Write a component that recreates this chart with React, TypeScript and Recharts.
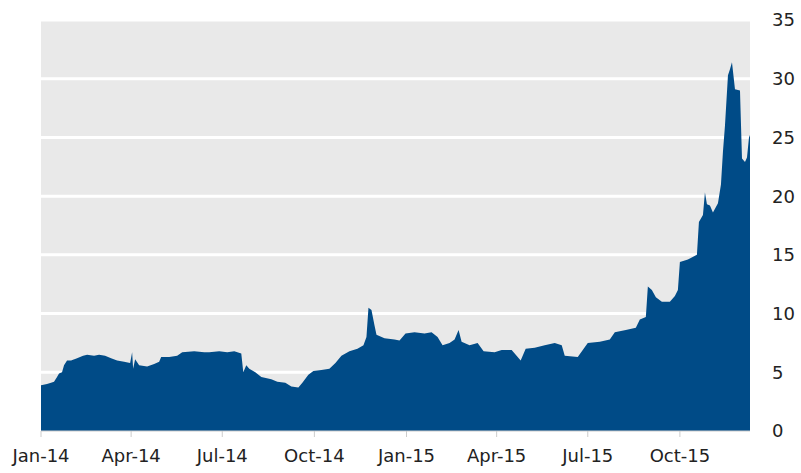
import { AreaChart, Area, XAxis, YAxis, CartesianGrid } from "recharts"

// days since 1 Jan 2014
const days = [
  0, 6, 10, 13, 16, 18, 21, 23, 26, 30, 36, 42, 46, 53, 58, 64, 70, 76, 83, 89,
  91, 92, 94, 98, 106, 113, 118, 120, 128, 136, 141, 153, 163, 168, 178, 186, 193, 200, 202, 205,
  208, 214, 220, 230, 236, 244, 250, 257, 261, 267, 272, 280, 288, 294, 300, 308, 316, 322, 325, 327,
  330, 333, 335, 343, 353, 358, 364, 373, 383, 390, 396, 401, 408, 413, 417, 420, 428, 436, 442, 453,
  460, 470, 476, 479, 484, 493, 503, 513, 520, 523, 536, 541, 546, 558, 568, 573, 584, 594, 598, 604,
  606, 610, 614, 620, 628, 633, 636, 638, 646, 655, 657, 661, 663, 665, 668, 671, 676, 679, 681, 683,
  686, 688, 690, 693, 698, 700, 703, 705, 707, 708,
]

const prices = [
  3.9, 4.0, 4.1, 4.2, 4.6, 4.9, 5.0, 5.6, 6.0, 6.0, 6.2, 6.4, 6.5, 6.4, 6.5, 6.4, 6.2, 6.0, 5.9, 5.8,
  6.7, 5.3, 6.1, 5.6, 5.5, 5.7, 5.9, 6.3, 6.3, 6.4, 6.7, 6.8, 6.7, 6.7, 6.8, 6.7, 6.8, 6.6, 5.0, 5.6,
  5.3, 5.0, 4.6, 4.4, 4.2, 4.1, 3.8, 3.7, 4.1, 4.8, 5.1, 5.2, 5.3, 5.8, 6.4, 6.8, 7.0, 7.3, 8.0, 10.5,
  10.3, 9.0, 8.2, 7.9, 7.8, 7.7, 8.3, 8.4, 8.3, 8.4, 8.0, 7.3, 7.5, 7.8, 8.6, 7.6, 7.3, 7.5, 6.8, 6.7,
  6.9, 6.9, 6.3, 6.0, 7.0, 7.1, 7.3, 7.5, 7.3, 6.4, 6.3, 6.9, 7.5, 7.6, 7.8, 8.4, 8.6, 8.8, 9.5, 9.7,
  12.3, 12.0, 11.4, 11.0, 11.0, 11.5, 12.0, 14.4, 14.6, 15.0, 17.8, 18.4, 20.3, 19.3, 19.2, 18.6, 19.4, 21.0, 23.8, 26.0,
  30.3, 30.8, 31.4, 29.1, 29.0, 23.2, 22.9, 23.3, 25.0, 25.2,
]

const tickDays = [0, 90, 181, 273, 365, 455, 546, 638]
const tickLabels = ["Jan-14", "Apr-14", "Jul-14", "Oct-14", "Jan-15", "Apr-15", "Jul-15", "Oct-15"]
const yTicks = [0, 5, 10, 15, 20, 25, 30, 35]

const data = days.map((d, i) => ({ day: d, price: prices[i] }))

export default function App() {
  const font = { fontFamily: "DejaVu Sans", fontSize: 18, fill: "#222" }

  return (
    <div style={{ position: "absolute", left: 0, top: 0, background: "#fff" }}>
      <AreaChart width={801} height={473} data={data} margin={{ top: 20, right: 0, bottom: 0, left: 41 }}>
        <CartesianGrid fill="#e9e9e9" stroke="#ffffff" strokeWidth={3} vertical={false} />
        <XAxis
          dataKey="day"
          type="number"
          domain={[0, 708]}
          ticks={tickDays}
          tickFormatter={(v) => tickLabels[tickDays.indexOf(v)] ?? ""}
          height={42}
          tickSize={6}
          tickMargin={12}
          axisLine={{ stroke: "#cccccc" }}
          tickLine={{ stroke: "#cccccc" }}
          tick={font}
          interval={0}
        />
        <YAxis
          orientation="right"
          domain={[0, 35]}
          ticks={yTicks}
          width={51}
          axisLine={false}
          tickLine={false}
          tickSize={0}
          tickMargin={22}
          tick={{ ...font, textAnchor: "start" }}
          interval={0}
        />
        <Area
          type="linear"
          dataKey="price"
          stroke="none"
          fill="#004b87"
          fillOpacity={1}
          isAnimationActive={false}
        />
      </AreaChart>
    </div>
  )
}
